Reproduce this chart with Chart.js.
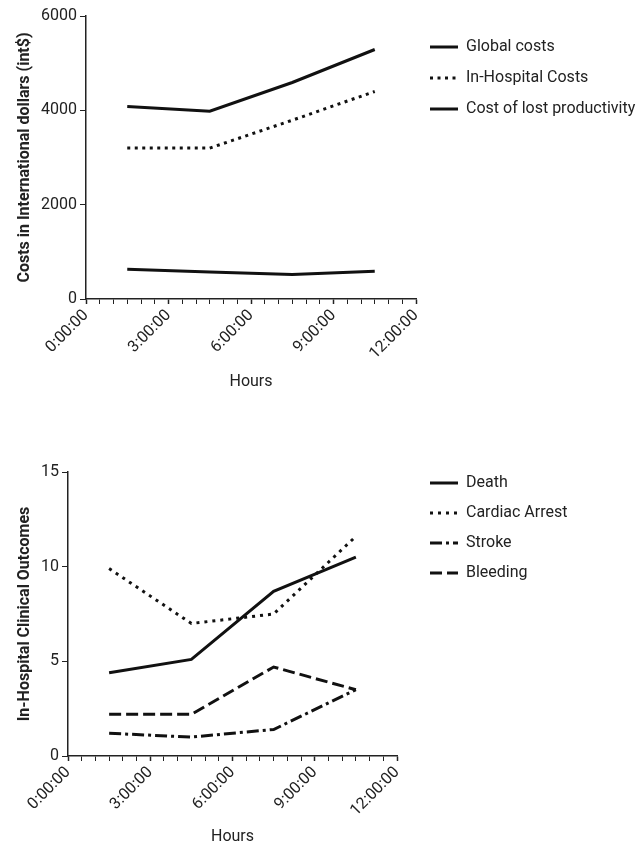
<!DOCTYPE html>
<html>
<head>
<meta charset="utf-8">
<script src="https://cdn.jsdelivr.net/npm/chart.js@4.4.1/dist/chart.umd.min.js"></script>
<style>
  html, body { margin: 0; padding: 0; background: #fff; }
  body { width: 636px; height: 847px; position: relative; overflow: hidden; }
  .box { position: absolute; left: 0; width: 636px; }
  #top { top: 0; height: 400px; }
  #bottom { top: 440px; height: 407px; }
</style>
</head>
<body>
<div class="box" id="top"><canvas id="costs-chart" width="636" height="400"></canvas></div>
<div class="box" id="bottom"><canvas id="outcomes-chart" width="636" height="407"></canvas></div>
<script>
// datos
const hours = [1.5, 4.5, 7.5, 10.5];
const xTickHours = [0, 3, 6, 9, 12];
const xTickLabels = ['0:00:00', '3:00:00', '6:00:00', '9:00:00', '12:00:00'];

const costLabels = ['Global costs', 'In-Hospital Costs', 'Cost of lost productivity'];
const globalCosts = [4080, 3980, 4590, 5290];
const inHospitalCosts = [3200, 3200, 3790, 4400];
const lostProductivity = [630, 570, 520, 590];

const outcomeLabels = ['Death', 'Cardiac Arrest', 'Stroke', 'Bleeding'];
const death = [4.4, 5.1, 8.7, 10.5];
const cardiacArrest = [9.9, 7.0, 7.5, 11.6];
const stroke = [1.2, 1.0, 1.4, 3.5];
const bleeding = [2.2, 2.2, 4.7, 3.5];

Chart.defaults.font.family = 'Roboto, "Liberation Sans", Arial, sans-serif';
Chart.defaults.color = '#222';

const ink = '#111';

const pts = arr => arr.map((v, i) => ({ x: hours[i], y: v }));

// mueve la leyenda a una posicion fija
const legendPlace = {
  id: 'legendPlace',
  afterLayout(chart, args, opts) {
    const lg = chart.legend;
    if (!lg) return;
    const w = lg.width;
    lg.left = opts.x;
    lg.right = opts.x + w;
    lg.top = opts.y;
    lg.bottom = chart.height;
  }
};

function line(label, values, dash) {
  return {
    label: label,
    data: pts(values),
    borderColor: ink,
    backgroundColor: ink,
    borderWidth: 3,
    borderDash: dash,
    pointRadius: 0,
    tension: 0
  };
}

function makeOptions(cfg) {
  return {
    responsive: false,
    animation: false,
    layout: { padding: { top: cfg.padTop, right: cfg.padRight, left: 0, bottom: 0 } },
    plugins: {
      tooltip: { enabled: false },
      legend: {
        position: 'chartArea',
        align: 'start',
        labels: {
          usePointStyle: true,
          pointStyle: 'line',
          pointStyleWidth: 28,
          padding: cfg.legendGap,
          color: '#222',
          font: { size: 16 },
          generateLabels: chart => chart.data.datasets.map((ds, i) => ({
            text: ds.label,
            fontColor: '#222',
            strokeStyle: ds.borderColor,
            fillStyle: ds.borderColor,
            lineWidth: ds.borderWidth,
            lineDash: ds.borderDash,
            lineCap: 'butt',
            pointStyle: 'line',
            hidden: false,
            datasetIndex: i
          }))
        }
      },
      legendPlace: { x: cfg.legendX, y: cfg.legendY }
    },
    scales: {
      x: {
        type: 'linear',
        min: 0,
        max: 12,
        border: { color: '#222', width: 1.5 },
        grid: {
          drawOnChartArea: false,
          tickLength: 5,
          color: '#222',
          tickWidth: c => (c.tick && xTickHours.includes(c.tick.value)) ? 1.5 : 1
        },
        ticks: {
          stepSize: 0.5,
          autoSkip: false,
          minRotation: 45,
          maxRotation: 45,
          padding: 2,
          font: { size: 16 },
          callback: v => {
            const i = xTickHours.indexOf(v);
            return i >= 0 ? xTickLabels[i] : '';
          }
        },
        title: {
          display: true,
          text: 'Hours',
          font: { size: 16 },
          padding: { top: 0, bottom: cfg.xTitlePad }
        },
        afterFit: s => { s.height = cfg.xHeight; }
      },
      y: {
        min: 0,
        max: cfg.yMax,
        border: { color: '#222', width: 1.5 },
        grid: { drawOnChartArea: false, tickLength: 6, color: '#222' },
        ticks: { stepSize: cfg.yStep, padding: 3, font: { size: 16 }, callback: v => String(v) },
        title: {
          display: true,
          text: cfg.yTitle,
          font: { size: 16, weight: 'bold' },
          padding: { top: 15, bottom: 0 }
        },
        afterFit: s => { s.width = cfg.yWidth; }
      }
    }
  };
}

// costes
new Chart(document.getElementById('costs-chart').getContext('2d'), {
  type: 'line',
  data: {
    datasets: [
      line(costLabels[0], globalCosts, []),
      line(costLabels[1], inHospitalCosts, [3, 4.5]),
      line(costLabels[2], lostProductivity, [])
    ]
  },
  options: makeOptions({
    padTop: 16, padRight: 220, yWidth: 86, xHeight: 101, xTitlePad: 8,
    yMax: 6000, yStep: 2000, yTitle: 'Costs in International dollars (int$)',
    legendGap: 15, legendX: 415, legendY: 24
  }),
  plugins: [legendPlace]
});

// resultados clinicos
new Chart(document.getElementById('outcomes-chart').getContext('2d'), {
  type: 'line',
  data: {
    datasets: [
      line(outcomeLabels[0], death, []),
      line(outcomeLabels[1], cardiacArrest, [3, 5]),
      line(outcomeLabels[2], stroke, [12, 4, 3, 4]),
      line(outcomeLabels[3], bleeding, [12, 5])
    ]
  },
  options: makeOptions({
    padTop: 32, padRight: 239, yWidth: 68, xHeight: 91, xTitlePad: 0,
    yMax: 15, yStep: 5, yTitle: 'In-Hospital Clinical Outcomes',
    legendGap: 14, legendX: 416, legendY: 21
  }),
  plugins: [legendPlace]
});
</script>
</body>
</html>
